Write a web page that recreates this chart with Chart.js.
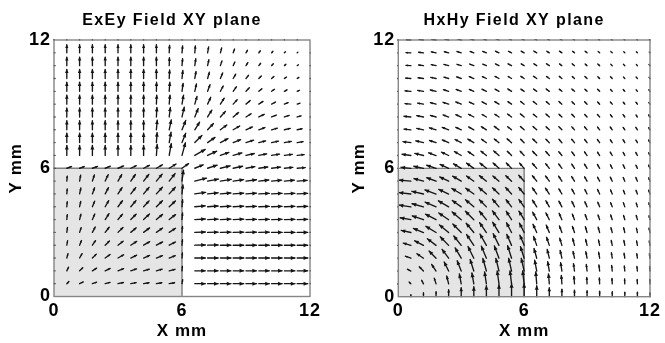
<!DOCTYPE html>
<html>
<head>
<meta charset="utf-8">
<script src="https://cdn.jsdelivr.net/npm/chart.js@4.4.1/dist/chart.umd.min.js"></script>
<style>
  html, body { margin: 0; padding: 0; background: #fff; }
  #wrap { position: relative; width: 665px; height: 343px; }
  .panel { position: absolute; top: 0; height: 343px; }
</style>
</head>
<body>
<div id="wrap">
  <div class="panel" style="left:0;width:332px"><canvas id="exey" width="332" height="343"></canvas></div>
  <div class="panel" style="left:332px;width:333px"><canvas id="hxhy" width="333" height="343"></canvas></div>
</div>
<script>
// grid of sample points (mm); rows run from the top (y = 12) down to y = 0
const gridX = [0, 0.6, 1.2, 1.8, 2.4, 3, 3.6, 4.2, 4.8, 5.4, 6, 6.6, 7.2, 7.8, 8.4, 9, 9.6, 10.2, 10.8, 11.4, 12];
const gridY = [12, 11.4, 10.8, 10.2, 9.6, 9, 8.4, 7.8, 7.2, 6.6, 6, 5.4, 4.8, 4.2, 3.6, 3, 2.4, 1.8, 1.2, 0.6, 0];
const axisTicks = [0, 6, 12];
const squareX = [0, 6];
const squareY = [0, 6];
const titles = ['ExEy Field XY plane', 'HxHy Field XY plane'];

// E field: magnitude (relative) and direction (degrees)
const exMag = [
  [1,1,1,1,1,1,1,1,1,1,1,1,1,1,1,1,1,1,1,1,0],
  [1,8,8,8,8,8,8,8,8,7.5,7,7,6,5,4,3,2.5,2,1.5,1,1],
  [1,8.5,8.5,8.5,8.5,8.5,8.5,8.5,8.5,8,7,7,6,5,4,3.5,3,2.5,2,1.5,1],
  [1,9,9,9,9,9,9,9,9,8.5,8,7,6.5,6,5,4,3.5,3,2.5,2,1],
  [1,9,9,9,9,9,9,9,9,9,8,7.5,7,6,5.5,5,4,3.5,3,2.5,1],
  [1,9,9,9,9,9,9,9,9,9,9,8,7.5,7,6,5.5,5,4.5,4,3,1],
  [1,9,9,9,9,9,9,9,9.5,9.5,10,9,8,7.5,7,6,6,5,5,4,1],
  [1,9,9,9,9,9,9,9,9.5,10,10,9,8.5,8,7.5,7,6.5,6,6,5,1],
  [1,9.5,9.5,9.5,9.5,9.5,9.5,9.5,10,10.5,10,10,9,8.5,8,8,7,7,7,6,1],
  [1,10,10,10,10,10,10,10,11,12,13,12,10,9,9,8.5,8,8,8,7,1],
  [1,5,5,5.5,5.5,6,6,6.5,7,8,8,9,10,10,9.5,9,9,9,8.5,8,1],
  [1,5,6,6.5,7,7.5,8,8.5,9,9.5,11,12,11,11,10.5,10.5,10,10,10,10,1],
  [1,5,6,6.5,7,7.5,8,8.5,9,9,9,11,10.5,10.5,10.5,10.5,10.5,10.5,10.5,10.5,1],
  [1,5,5.5,6,7,7.5,8,8,8.5,8.5,7,10.5,10.5,10.5,10.5,10.5,10.5,10.5,10.5,10.5,1],
  [1,5,5.5,6,7,7,7.5,8,8,8,6.5,10.5,10.5,10.5,10.5,10.5,10.5,10.5,10.5,10.5,1],
  [1,5,5,6,6.5,7,7,7.5,7.5,7.5,6,10.5,10.5,10.5,10.5,10.5,10.5,10.5,10.5,10.5,1],
  [1,4.5,5,5.5,6,6.5,7,7,7,7,5.5,10.5,10.5,10.5,10.5,10.5,10.5,10.5,10.5,10.5,1],
  [1,4.5,5,5.5,6,6.5,6.5,6.5,6.5,6.5,5,10.5,10.5,10.5,10.5,10.5,10.5,10.5,10.5,10.5,1],
  [1,4,4.5,5,5.5,6,6,6,6,6,4.5,10.5,10.5,10.5,10.5,10.5,10.5,10.5,10.5,10.5,1],
  [1,3,4,4.5,5,5.5,5.5,5.5,5.5,5.5,4,10.5,10.5,10.5,10.5,10.5,10.5,10.5,10.5,10.5,1],
  [0,0,0,0,0,0,0,0,0,0,0,0,0,0,0,0,0,0,0,0,0]
];
const exAng = [
  [90,90,90,90,90,90,90,90,90,90,90,90,90,90,90,90,90,90,90,90,0],
  [0,90,90,90,90,90,90,90,90,87,85,85,80,75,70,60,55,50,45,45,0],
  [0,90,90,90,90,90,90,90,90,88,85,82,78,72,65,58,52,48,42,40,0],
  [0,90,90,90,90,90,90,90,90,87,84,80,74,68,60,52,45,40,35,32,0],
  [0,90,90,90,90,90,90,90,89,86,82,77,70,62,55,47,40,35,30,25,0],
  [0,90,90,90,90,90,90,90,88,85,80,74,65,57,48,40,33,28,22,20,0],
  [0,90,90,90,90,90,90,90,87,83,77,68,58,48,40,32,26,22,18,15,0],
  [0,90,90,90,90,90,90,90,85,78,68,58,47,37,30,24,20,16,13,12,0],
  [0,90,90,90,90,90,90,90,86,80,68,45,35,28,22,18,14,12,10,9,0],
  [0,90,90,90,90,90,90,90,86,80,75,30,25,20,16,13,11,9,8,7,0],
  [0,20,20,20,22,22,25,27,30,32,35,22,18,14,12,10,8,7,6,5,0],
  [0,85,80,72,65,60,55,52,50,52,82,14,10,9,8,7,6,5,5,4,0],
  [0,85,78,70,62,57,52,50,48,47,84,8,6,5,4,4,3,3,3,3,0],
  [0,85,78,68,60,53,50,47,45,43,85,5,4,3,3,2,2,2,2,2,0],
  [0,84,76,66,57,50,45,43,40,38,85,3,2,2,2,1,1,1,1,1,0],
  [0,82,72,62,52,45,40,37,35,33,85,2,1,1,1,1,1,0,0,0,0],
  [0,80,68,56,45,38,33,30,28,27,85,1,1,0,0,0,0,0,0,0,0],
  [0,75,60,45,36,30,26,23,22,21,85,0,0,0,0,0,0,0,0,0,0],
  [0,65,45,33,26,22,19,17,16,15,85,0,0,0,0,0,0,0,0,0,0],
  [0,45,26,19,15,12,11,10,10,10,80,0,0,0,0,0,0,0,0,0,0],
  [0,0,0,0,0,0,0,0,0,0,0,0,0,0,0,0,0,0,0,0,0]
];

// H field: magnitude (relative) and direction (degrees)
const hxMag = [
  [4,4.5,4.5,4.5,4,4,4,3.5,3.5,3,3,3,3,2.5,2.5,2,2,1.5,1.5,1,1],
  [4.5,5,5,5,4.5,4.5,4,4,4,3.5,3.5,3.5,3,3,2.5,2.5,2,2,1.5,1.5,1],
  [5,5,5,5,5,4.5,4.5,4,4,4,3.5,3.5,3.5,3,3,2.5,2.5,2,2,1.5,1.5],
  [5,5.5,5.5,5.5,5,5,5,4.5,4.5,4,4,4,3.5,3.5,3,3,2.5,2.5,2,2,1.5],
  [5.5,6,6,6,5.5,5.5,5,5,4.5,4.5,4,4,4,3.5,3.5,3,3,2.5,2.5,2,2],
  [6,6,6,6,6,6,5,5,5,4.5,4.5,4.5,4,4,3.5,3.5,3,3,2.5,2.5,2],
  [6.5,7,7,6,6,6,6,5,5,5,5,4.5,4.5,4,4,3.5,3.5,3,3,2.5,2.5],
  [7,7,7,7,7,6,6,6,6,5,5,5,4.5,4.5,4,4,3.5,3.5,3,3,2.5],
  [8,8,8,7,7,7,7,6,6,6,5,5.5,5,4.5,4.5,4,4,3.5,3.5,3,3],
  [9,9,9,8,8,8,7,7,7,6,6,6,5.5,5,4.5,4.5,4,4,3.5,3.5,3],
  [11,10,10,10,9.5,9,9,8.5,8,7.5,7,6.5,6,5.5,5,5,4.5,4,4,3.5,3.5],
  [12,12,10,10,10,10,9,9,8,8,8,7,6.5,6,5.5,5,4.5,4.5,4,4,3.5],
  [12,12,12,12,11,11,10,10,9,9,8.5,7.5,7,6,5.5,5,5,4.5,4,4,4],
  [12,12,12,12,12,11,11,10,10,9,9,8,7,6.5,6,5.5,5,4.5,4.5,4,4],
  [11,11,12,12,12,12,12,11,11,10,10,8.5,7.5,7,6,5.5,5,5,4.5,4.5,4],
  [10,10,11,12,12,12,12,12,12,11,10.5,9,8,7,6.5,6,5.5,5,5,4.5,4.5],
  [8,8,10,11,12,12,13,13,13,12,11,9.5,8.5,7.5,7,6,5.5,5,5,4.5,4.5],
  [6,6,8,10,11,12,13,13,13,13,12,10,9,8,7,6.5,6,5.5,5,4.5,4.5],
  [4,4,6,8,10,11,12,13,13,13,13,11,9.5,8.5,7.5,6.5,6,5.5,5,4.5,4.5],
  [2.5,2.5,4,6,8,10,11,12,13,13,13,12,10,8.5,7.5,6.5,6,5.5,5,4.5,4.5],
  [0,2,4,5,7,9,10,11,12,13,13,11,9,7.5,6.5,6,5.5,5,4.5,4.5,4]
];
const hxAng = [
  [180,177,173,170,167,164,161,159,156,154,152,150,148,146,145,143,141,140,138,137,135],
  [180,177,173,169,166,163,160,158,155,153,151,149,147,145,143,142,140,138,137,135,134],
  [180,176,172,169,165,162,159,157,154,152,149,148,146,144,142,140,138,137,135,134,132],
  [180,176,172,168,164,161,158,155,152,150,147,146,144,142,140,138,137,135,133,132,130],
  [180,175,171,167,163,160,157,154,151,148,146,145,143,141,139,137,135,133,131,130,128],
  [180,175,170,166,162,158,155,152,149,146,143,143,141,139,137,135,133,131,129,128,126],
  [180,174,169,164,160,157,153,150,147,144,141,141,139,137,135,133,131,129,127,125,124],
  [180,174,168,163,159,155,151,148,144,142,139,139,137,135,132,130,128,126,125,123,121],
  [180,173,167,162,157,153,149,145,142,139,136,137,135,132,130,128,126,124,122,120,119],
  [180,172,166,160,155,150,146,142,139,136,133,135,132,130,127,125,123,121,119,118,116],
  [180,174,168,162,156,150,145,141,138,135,132,132,129,127,124,122,120,118,117,115,114],
  [180,175,165,160,155,150,145,142,140,137,133,129,127,124,122,120,118,116,115,113,112],
  [180,173,167,160,155,150,145,140,137,133,130,126,124,121,119,117,115,113,112,111,109],
  [180,172,165,157,150,145,140,135,131,128,126,123,120,118,116,114,112,111,110,108,107],
  [180,170,162,153,146,140,135,130,127,123,122,119,117,114,112,111,109,108,107,106,105],
  [180,168,158,149,141,135,130,125,122,118,117,115,113,111,109,107,106,105,104,103,103],
  [180,164,153,143,135,129,124,120,117,114,113,110,109,107,105,104,103,102,101,101,100],
  [180,160,146,135,127,121,117,113,111,108,108,106,104,103,102,101,100,99,99,98,98],
  [180,153,135,124,117,112,108,106,104,103,103,101,100,99,98,97,97,96,96,96,95],
  [180,135,117,108,104,101,100,99,98,97,97,95,95,94,94,93,93,93,93,93,93],
  [90,90,90,90,90,90,90,90,90,90,90,90,90,90,90,90,90,90,90,90,90]
];

const arrowUnit = 0.047; // mm of arrow per unit of field
const FONT = '"Liberation Sans", Arial, Helvetica, sans-serif';

function fieldPoints(mag, ang) {
  const pts = [];
  gridY.forEach((y, r) => {
    gridX.forEach((x, c) => {
      const m = mag[r][c] * arrowUnit;
      const t = ang[r][c] * Math.PI / 180;
      pts.push({ x, y, u: m * Math.cos(t), v: m * Math.sin(t) });
    });
  });
  return pts;
}

// letter spacing for the wide label type
const spacing = {
  id: 'spacing',
  beforeUpdate(chart) { chart.ctx.letterSpacing = '1px'; },
  beforeDraw(chart) { chart.ctx.letterSpacing = '1px'; }
};

const quiver = {
  id: 'quiver',
  beforeDatasetsDraw(chart) {
    const { ctx, scales: { x, y } } = chart;
    const x0 = x.getPixelForValue(squareX[0]), x1 = x.getPixelForValue(squareX[1]);
    const y0 = y.getPixelForValue(squareY[0]), y1 = y.getPixelForValue(squareY[1]);
    ctx.save();
    ctx.fillStyle = '#e5e5e5';
    ctx.fillRect(x0, y1, x1 - x0, y0 - y1);
    ctx.strokeStyle = '#7d7d7d';
    ctx.lineWidth = 1.4;
    ctx.beginPath();
    ctx.moveTo(x0, y1);
    ctx.lineTo(x1, y1);
    ctx.lineTo(x1, y0);
    ctx.stroke();
    ctx.restore();
  },
  afterDatasetsDraw(chart) {
    const { ctx, chartArea: a, scales: { x, y } } = chart;
    ctx.save();
    ctx.beginPath();
    ctx.rect(a.left - 1, a.top - 1, a.right - a.left + 2, a.bottom - a.top + 2);
    ctx.clip();
    ctx.strokeStyle = '#151515';
    ctx.fillStyle = '#151515';
    ctx.lineWidth = 1.35;
    ctx.lineCap = 'round';
    chart.data.datasets[0].data.forEach(p => {
      if (!p.u && !p.v) return;
      const px = x.getPixelForValue(p.x), py = y.getPixelForValue(p.y);
      const qx = x.getPixelForValue(p.x + p.u), qy = y.getPixelForValue(p.y + p.v);
      const len = Math.hypot(qx - px, qy - py);
      const th = Math.atan2(qy - py, qx - px);
      ctx.beginPath();
      ctx.moveTo(px, py);
      ctx.lineTo(qx, qy);
      ctx.stroke();
      if (len < 2) return;
      const h = Math.min(4.6, Math.max(2, len * 0.45));
      ctx.beginPath();
      ctx.moveTo(qx + 0.5 * Math.cos(th), qy + 0.5 * Math.sin(th));
      ctx.lineTo(qx - h * Math.cos(th - 0.45), qy - h * Math.sin(th - 0.45));
      ctx.lineTo(qx - h * Math.cos(th + 0.45), qy - h * Math.sin(th + 0.45));
      ctx.closePath();
      ctx.fill();
    });
    ctx.restore();

    ctx.save();
    ctx.strokeStyle = '#858585';
    ctx.lineWidth = 1.4;
    ctx.strokeRect(a.left, a.top, a.right - a.left, a.bottom - a.top);
    ctx.restore();
  },
  afterDraw(chart, args, opts) {
    const { ctx, chartArea: a } = chart;
    ctx.save();
    ctx.font = 'bold 16px ' + FONT;
    ctx.letterSpacing = '1.4px';
    ctx.fillStyle = '#000';
    ctx.textAlign = 'center';
    ctx.textBaseline = 'alphabetic';
    ctx.fillText(opts.text, (a.left + a.right) / 2 + opts.shift, 24.5);
    ctx.restore();
  }
};

function makeChart(id, title, points, g) {
  const tickFont = { family: FONT, size: 18, weight: 'bold' };
  const titleFont = { family: FONT, size: 17, weight: 'bold' };
  return new Chart(document.getElementById(id), {
    type: 'scatter',
    plugins: [spacing, quiver],
    data: {
      datasets: [{ data: points, pointRadius: 0, pointHoverRadius: 0, showLine: false }]
    },
    options: {
      responsive: false,
      animation: false,
      events: [],
      layout: { padding: { left: 0, top: 40, right: g.padRight, bottom: 0 } },
      plugins: {
        legend: { display: false },
        tooltip: { enabled: false },
        quiver: { text: title, shift: -10 }
      },
      scales: {
        x: {
          type: 'linear', min: 0, max: 12,
          afterBuildTicks: s => { s.ticks = axisTicks.map(v => ({ value: v })); },
          afterFit: s => { s.height = g.xHeight; },
          grid: { display: false, drawTicks: false },
          border: { display: false },
          ticks: { color: '#000', font: tickFont, padding: 4, maxRotation: 0, autoSkip: false },
          title: { display: true, text: 'X mm', color: '#000', font: titleFont, padding: { top: 0, bottom: 1 } }
        },
        y: {
          type: 'linear', min: 0, max: 12,
          afterBuildTicks: s => { s.ticks = axisTicks.map(v => ({ value: v })); },
          afterFit: s => { s.width = g.yWidth; },
          grid: { display: false, drawTicks: false },
          border: { display: false },
          ticks: { color: '#000', font: tickFont, padding: 3, autoSkip: false },
          title: { display: true, text: 'Y mm', color: '#000', font: titleFont, padding: { top: g.yTitlePad, bottom: 0 } }
        }
      }
    }
  });
}

makeChart('exey', titles[0], fieldPoints(exMag, exAng), { yWidth: 54, xHeight: 46.5, padRight: 22, yTitlePad: 6.5 });
makeChart('hxhy', titles[1], fieldPoints(hxMag, hxAng), { yWidth: 66.3, xHeight: 46.3, padRight: 12.3, yTitlePad: 16.8 });
</script>
</body>
</html>
